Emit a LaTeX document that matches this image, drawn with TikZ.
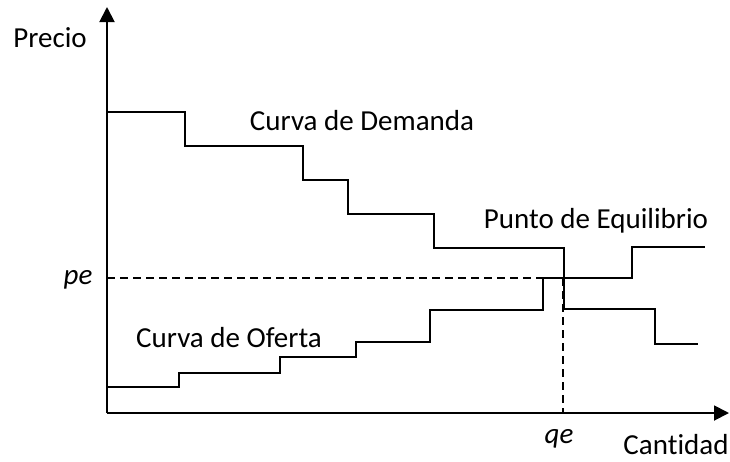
\documentclass[tikz,border=0pt]{standalone}
\usepackage{fontspec}
\setmainfont[Ligatures=CommonOff]{Carlito}
\usetikzlibrary{arrows.meta}
\begin{document}
\begin{tikzpicture}[x=1pt,y=-1pt,
  axis/.style={line width=1.9pt,-{Triangle[length=15pt,width=15pt]}},
  curve/.style={line width=1.9pt,line join=miter},
  guide/.style={line width=1.4pt,dash pattern=on 8pt off 5pt},
  lbl/.style={font=\fontsize{29}{29}\selectfont,inner sep=0pt,anchor=base,text=black}]
\useasboundingbox (0,0) rectangle (730,461);
\coordinate (O) at (107,413);
\coordinate (ytop) at (107,7);
\coordinate (xend) at (729,413);
\draw[axis] (O) -- (ytop);
\draw[axis] (O) -- (xend);
% demand
\coordinate (d0) at (107,112);
\coordinate (d1) at (185,146);
\coordinate (d2) at (303,180);
\coordinate (d3) at (348,214);
\coordinate (d4) at (434,248);
\coordinate (d5) at (564,309);
\coordinate (d6) at (655,344);
\coordinate (d7) at (698,344);
\draw[curve] (d0) -| (d1) -| (d2) -| (d3) -| (d4) -| (d5) -| (d6) -- (d7);
% supply
\coordinate (s0) at (107,387);
\coordinate (s1) at (179,373);
\coordinate (s2) at (280,357);
\coordinate (s3) at (356,342);
\coordinate (s4) at (430,310);
\coordinate (s5) at (543,278);
\coordinate (s6) at (632,247);
\coordinate (s7) at (705,247);
\draw[curve] (s0) -| (s1) -| (s2) -| (s3) -| (s4) -| (s5) -| (s6) -- (s7);
% guides
\coordinate (pe0) at (107,278);
\coordinate (qe0) at (563,278);
\coordinate (qe1) at (563,413);
\draw[guide] (pe0) -- (s5);
\draw[guide] (qe0) -- (qe1);
% labels
\node[lbl] (precio) at (50,47) {Precio};
\node[lbl] (dem) at (362,130) {Curva de Demanda};
\node[lbl] (eq) at (596,228) {Punto de Equilibrio};
\node[lbl] (of) at (229,347) {Curva de Oferta};
\node[lbl] (pe) at (78,284) {\itshape pe};
\node[lbl] (qe) at (559,443) {\itshape qe};
\node[lbl] (cant) at (676,454) {Cantidad};
\end{tikzpicture}
\end{document}
